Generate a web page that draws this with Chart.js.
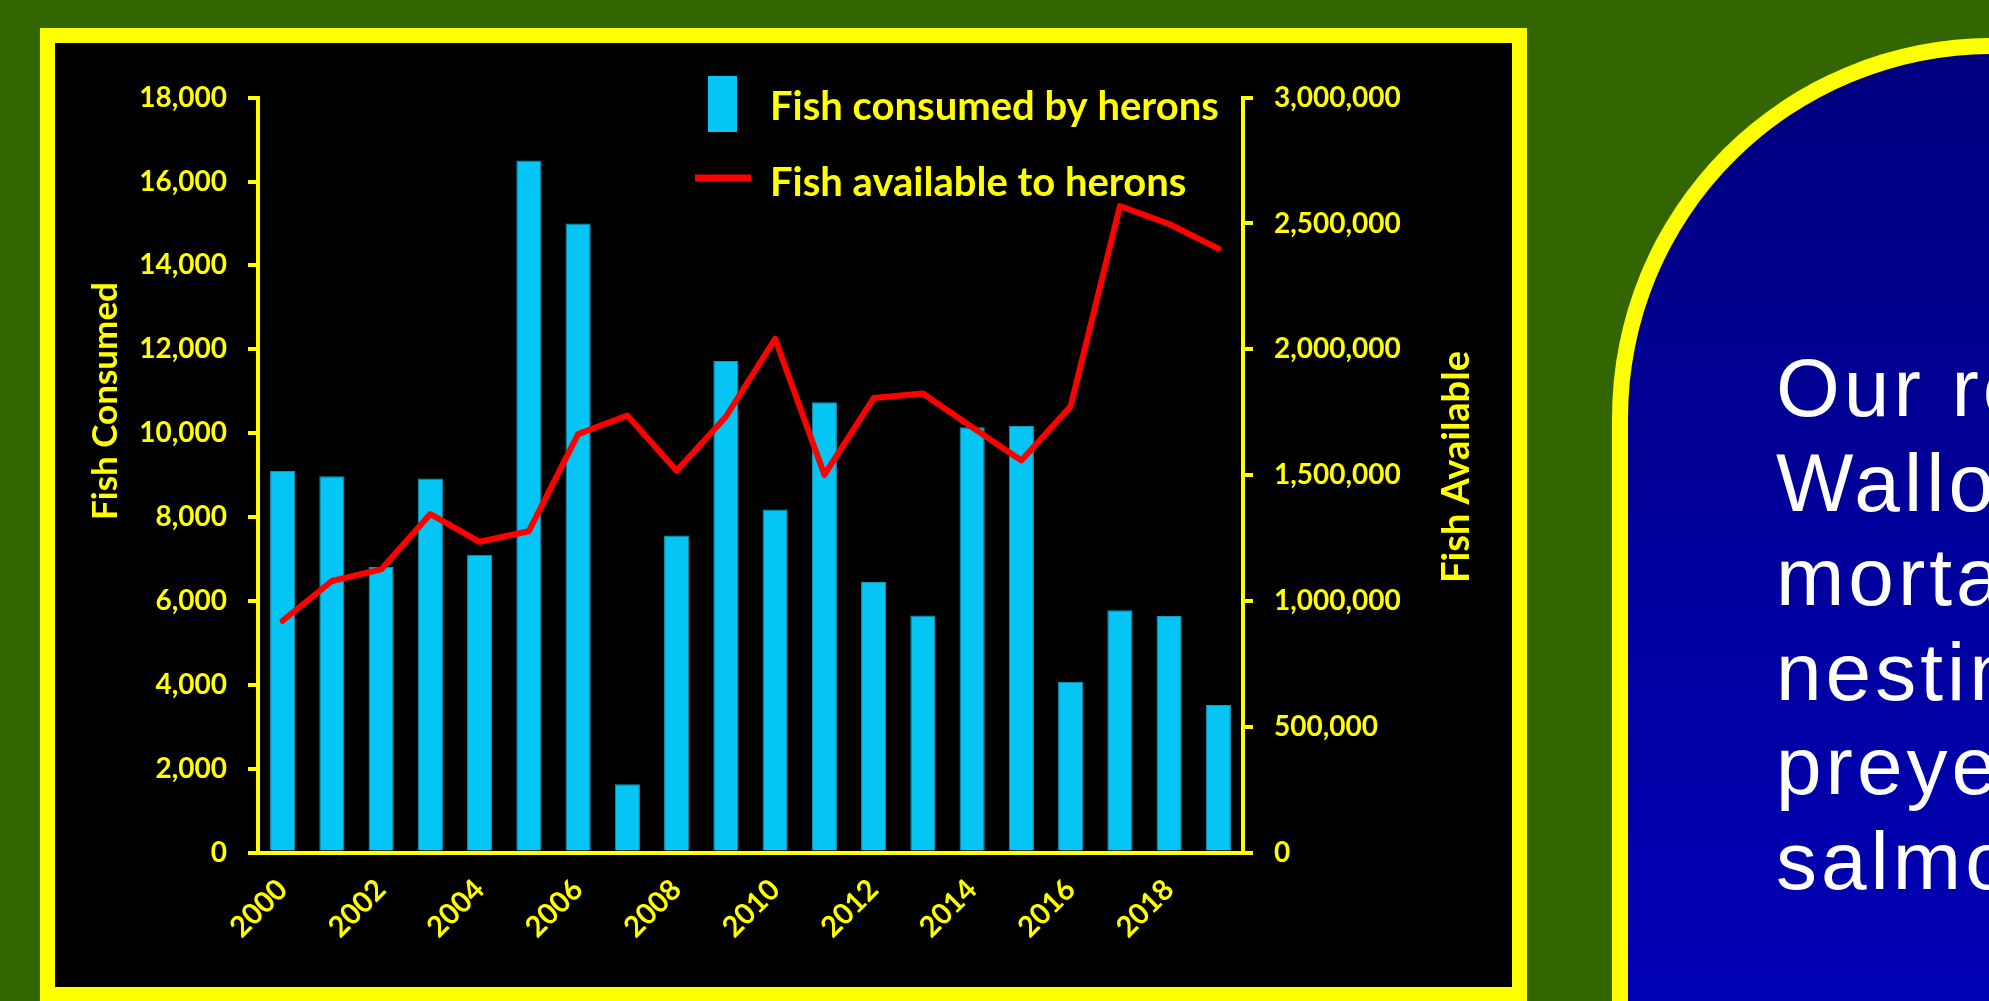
<!DOCTYPE html>
<html>
<head>
<meta charset="utf-8">
<script src="https://cdn.jsdelivr.net/npm/chart.js@4.4.1/dist/chart.umd.min.js"></script>
<style>
  html, body { margin: 0; padding: 0; }
  body {
    width: 1989px; height: 1001px; overflow: hidden;
    background: #336600; position: relative;
  }
  #frame {
    position: absolute; left: 40px; top: 28px;
    width: 1487px; height: 974px; box-sizing: border-box;
    border: 15px solid #ffff00; background: #000;
  }
  #chartBox { position: relative; width: 1457px; height: 944px; }
  #side {
    position: absolute; left: 1612px; top: 38px;
    width: 700px; height: 1000px; box-sizing: border-box;
    border: 16px solid #ffff00; border-right: none; border-bottom: none;
    border-top-left-radius: 380px;
    background: linear-gradient(#000080, #0000b8);
  }
  #sideText {
    position: absolute; left: 1776px; top: 341px;
    font-family: "Liberation Sans", Arial, sans-serif;
    font-size: 82px; line-height: 94.6px; letter-spacing: 4px;
    color: #fff; white-space: pre;
  }
</style>
</head>
<body>
<div id="frame"><div id="chartBox"><canvas id="herons"></canvas></div></div>
<div id="side"></div>
<div id="sideText">Our research
Wallowa
mortality
nesting
preyed
salmon</div>

<script>
var years = ['2000', '2001', '2002', '2003', '2004', '2005', '2006', '2007', '2008', '2009',
             '2010', '2011', '2012', '2013', '2014', '2015', '2016', '2017', '2018', '2019'];
var shownYears = ['2000', '2002', '2004', '2006', '2008', '2010', '2012', '2014', '2016', '2018'];

var fishConsumed = [9100, 8970, 6810, 8920, 7100, 16500, 15000, 1630, 7560, 11720,
                    8180, 10740, 6450, 5650, 10140, 10170, 4070, 5780, 5640, 3520];
var fishAvailable = [921000, 1079000, 1125000, 1345000, 1235000, 1277000, 1663000, 1737000, 1517000, 1732000,
                     2042000, 1501000, 1806000, 1824000, 1690000, 1558000, 1774000, 2569000, 2498000, 2400000];

var consumedTicks = [0, 2000, 4000, 6000, 8000, 10000, 12000, 14000, 16000, 18000];
var availableTicks = [0, 500000, 1000000, 1500000, 2000000, 2500000, 3000000];

var YELLOW = '#ffff00';
var FONT = 'Lato, "Open Sans", sans-serif';

// axis titles and the legend are painted straight onto the canvas
var overlay = {
    id: 'overlay',
    afterDraw: function (chart) {
        var ctx = chart.ctx;
        ctx.save();
        ctx.fillStyle = YELLOW;
        ctx.textAlign = 'center';
        ctx.textBaseline = 'alphabetic';

        ctx.save();
        ctx.font = 'bold 35px ' + FONT;
        ctx.translate(62, 358);
        ctx.rotate(-Math.PI / 2);
        ctx.fillText('Fish Consumed', 0, 0);
        ctx.restore();

        ctx.save();
        ctx.font = 'bold 38px ' + FONT;
        ctx.translate(1414, 424);
        ctx.rotate(-Math.PI / 2);
        ctx.fillText('Fish Available', 0, 0);
        ctx.restore();

        var bars = chart.data.datasets.find(function (d) { return d.type === 'bar'; });
        var line = chart.data.datasets.find(function (d) { return d.type === 'line'; });

        ctx.fillStyle = bars.backgroundColor;
        ctx.fillRect(653, 33, 29, 56);

        ctx.strokeStyle = line.borderColor;
        ctx.lineWidth = 7;
        ctx.beginPath();
        ctx.moveTo(640, 135);
        ctx.lineTo(696, 135);
        ctx.stroke();

        ctx.fillStyle = YELLOW;
        ctx.font = 'bold 40px ' + FONT;
        ctx.textAlign = 'left';
        ctx.fillText(bars.label, 715, 77);
        ctx.fillText(line.label, 715, 153);
        ctx.restore();
    }
};

function yAxis(position, ticks, width) {
    return {
        type: 'linear',
        position: position,
        min: ticks[0],
        max: ticks[ticks.length - 1],
        afterBuildTicks: function (scale) {
            scale.ticks = ticks.map(function (v) { return { value: v }; });
        },
        afterFit: function (scale) { scale.width = width; },
        grid: { drawOnChartArea: false, drawTicks: true, tickLength: 10, color: YELLOW, lineWidth: 4 },
        border: { display: true, color: YELLOW, width: 4 },
        ticks: { color: YELLOW, padding: 21, font: { family: FONT, weight: 'bold', size: 28 } }
    };
}

new Chart(document.getElementById('herons'), {
    data: {
        labels: years,
        datasets: [{
            type: 'line',
            label: 'Fish available to herons',
            data: fishAvailable,
            yAxisID: 'y1',
            borderColor: '#ff0000',
            borderWidth: 6,
            pointRadius: 0,
            tension: 0,
            borderCapStyle: 'round',
            borderJoinStyle: 'round',
            order: 0
        }, {
            type: 'bar',
            label: 'Fish consumed by herons',
            data: fishConsumed,
            yAxisID: 'y',
            backgroundColor: '#04c5f3',
            borderColor: '#1a96b8',
            borderWidth: 1,
            barPercentage: 0.51,
            categoryPercentage: 1,
            order: 1
        }]
    },
    options: {
        responsive: true,
        maintainAspectRatio: false,
        animation: false,
        events: [],
        layout: { padding: { top: 54.7, left: 0, right: 0, bottom: 0 } },
        plugins: { legend: { display: false }, tooltip: { enabled: false } },
        scales: {
            x: {
                afterFit: function (scale) { scale.height = 134.5; },
                grid: { display: false },
                border: { display: true, color: YELLOW, width: 4 },
                ticks: {
                    color: YELLOW,
                    autoSkip: false,
                    minRotation: 45,
                    maxRotation: 45,
                    padding: 12,
                    font: { family: FONT, weight: 'bold', size: 29 },
                    callback: function (value, index) {
                        return shownYears.indexOf(years[index]) >= 0 ? years[index] : '';
                    }
                }
            },
            y: yAxis('left', consumedTicks, 203),
            y1: yAxis('right', availableTicks, 269)
        }
    },
    plugins: [overlay]
});
</script>
</body>
</html>
